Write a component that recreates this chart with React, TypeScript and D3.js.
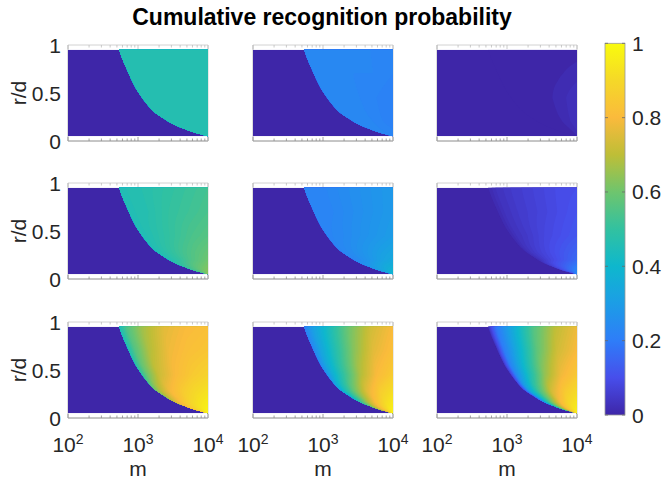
import React, { useEffect, useRef } from 'react';
import * as d3 from 'd3';

// parula-like colormap
const parulaStops = [0, 0.1, 0.2, 0.3, 0.4, 0.5, 0.6, 0.7, 0.8, 0.9, 1];
const parulaColors = [
  '#3e26a8', '#474eeb', '#2e7df8', '#1c9de6', '#0eb7cd', '#32c1a0',
  '#6ec56e', '#bebe37', '#faba3c', '#f5d828', '#f9fb0e',
];

const xTickValues = [1e2, 1e3, 1e4];
const xTickExp = ['2', '3', '4'];
const yTickValues = [0, 0.5, 1];
const yTickLabels = ['0', '0.5', '1'];
const cbTickValues = [0, 0.2, 0.4, 0.6, 0.8, 1];
const cbTickLabels = ['0', '0.2', '0.4', '0.6', '0.8', '1'];

// edge of the non-zero region: r/d vs log10(m)
const boundaryRd = [0.95, 0.85, 0.75, 0.65, 0.55, 0.45, 0.35, 0.28, 0.22, 0.17, 0.13, 0.1, 0.075, 0.05];
const boundaryLogM = [2.73, 2.78, 2.84, 2.9, 2.97, 3.06, 3.17, 3.27, 3.4, 3.52, 3.65, 3.76, 3.87, 4.0];

// sample rows (r/d) and columns (fraction of the way from the edge to m = 10^4)
const rdRows = [0.95, 0.7, 0.45, 0.2, 0.05];
const tCols = [0, 0.08, 0.25, 0.5, 0.75, 1];

const p11 = [
  [0.46, 0.46, 0.46, 0.46, 0.46, 0.46],
  [0.46, 0.46, 0.46, 0.46, 0.46, 0.46],
  [0.46, 0.46, 0.46, 0.46, 0.46, 0.46],
  [0.46, 0.46, 0.46, 0.46, 0.46, 0.46],
  [0.46, 0.46, 0.46, 0.46, 0.46, 0.46],
];
const p12 = [
  [0.23, 0.23, 0.23, 0.23, 0.23, 0.23],
  [0.23, 0.23, 0.23, 0.23, 0.23, 0.22],
  [0.23, 0.23, 0.23, 0.23, 0.22, 0.21],
  [0.23, 0.23, 0.23, 0.23, 0.22, 0.21],
  [0.23, 0.23, 0.23, 0.23, 0.23, 0.23],
];
const p13 = [
  [0.003, 0.003, 0.003, 0.003, 0.003, 0.005],
  [0.003, 0.003, 0.003, 0.003, 0.008, 0.015],
  [0.003, 0.003, 0.003, 0.005, 0.015, 0.03],
  [0.003, 0.003, 0.003, 0.005, 0.015, 0.03],
  [0.003, 0.003, 0.003, 0.003, 0.008, 0.015],
];
const p21 = [
  [0.45, 0.46, 0.47, 0.49, 0.51, 0.53],
  [0.45, 0.46, 0.47, 0.5, 0.52, 0.54],
  [0.45, 0.46, 0.48, 0.51, 0.54, 0.56],
  [0.46, 0.47, 0.5, 0.54, 0.57, 0.6],
  [0.55, 0.56, 0.58, 0.61, 0.63, 0.64],
];
const p22 = [
  [0.22, 0.22, 0.23, 0.25, 0.27, 0.29],
  [0.22, 0.22, 0.23, 0.25, 0.27, 0.29],
  [0.22, 0.23, 0.24, 0.26, 0.28, 0.3],
  [0.23, 0.24, 0.26, 0.29, 0.32, 0.34],
  [0.32, 0.33, 0.35, 0.37, 0.39, 0.4],
];
const p23 = [
  [0.01, 0.03, 0.05, 0.07, 0.09, 0.1],
  [0.01, 0.03, 0.05, 0.07, 0.09, 0.11],
  [0.01, 0.03, 0.05, 0.08, 0.1, 0.12],
  [0.02, 0.04, 0.07, 0.1, 0.13, 0.16],
  [0.1, 0.12, 0.15, 0.19, 0.22, 0.25],
];
const p31 = [
  [0.45, 0.55, 0.66, 0.76, 0.8, 0.82],
  [0.46, 0.56, 0.68, 0.78, 0.82, 0.84],
  [0.5, 0.6, 0.72, 0.8, 0.85, 0.88],
  [0.68, 0.74, 0.82, 0.88, 0.92, 0.95],
  [0.9, 0.91, 0.93, 0.95, 0.97, 0.98],
];
const p32 = [
  [0.22, 0.3, 0.42, 0.6, 0.73, 0.8],
  [0.23, 0.32, 0.45, 0.63, 0.76, 0.82],
  [0.26, 0.36, 0.5, 0.68, 0.8, 0.86],
  [0.4, 0.5, 0.65, 0.8, 0.89, 0.94],
  [0.75, 0.8, 0.85, 0.92, 0.96, 0.98],
];
const p33 = [
  [0.03, 0.18, 0.33, 0.55, 0.7, 0.78],
  [0.04, 0.2, 0.36, 0.58, 0.73, 0.8],
  [0.06, 0.24, 0.42, 0.64, 0.78, 0.85],
  [0.15, 0.38, 0.58, 0.78, 0.88, 0.93],
  [0.6, 0.7, 0.8, 0.9, 0.95, 0.97],
];
const panels = [
  [p11, p12, p13],
  [p21, p22, p23],
  [p31, p32, p33],
];

const FONT = "'Liberation Sans', Arial, Helvetica, sans-serif";
const TXT = '#262626';

// piecewise linear lookup (xs ascending or descending)
function interp(xs: number[], ys: number[], x: number) {
  for (let i = 0; i < xs.length - 1; i++) {
    const a = xs[i], b = xs[i + 1];
    if ((x - a) * (x - b) <= 0) {
      const f = b === a ? 0 : (x - a) / (b - a);
      return ys[i] + f * (ys[i + 1] - ys[i]);
    }
  }
  return Math.abs(x - xs[0]) < Math.abs(x - xs[xs.length - 1]) ? ys[0] : ys[ys.length - 1];
}

// value at (log10 m, r/d); left of the edge it just holds the edge value,
// the edge itself comes from the clip path
function fieldValue(grid: number[][], logm: number, rd: number) {
  const xb = interp(boundaryRd, boundaryLogM, rd);
  const t = xb >= 4 ? 1 : Math.max(0, Math.min(1, (logm - xb) / (4 - xb)));
  const rowVals = grid.map((row) => interp(tCols, row, t));
  return interp(rdRows, rowVals, rd);
}

const App: React.FC = () => {
  const ref = useRef<SVGSVGElement>(null);

  useEffect(() => {
    if (!ref.current) return;
    const svg = d3.select(ref.current);
    svg.selectAll('*').remove();

    const parula = d3
      .scaleLinear<string>()
      .domain(parulaStops)
      .range(parulaColors)
      .interpolate(d3.interpolateRgb)
      .clamp(true);

    const colX = [68, 253, 437];
    const rowY = [45, 183, 322];
    const pw = 140;
    const ph = 96;
    const pad = 2;
    const thresholds = d3.range(1, 100).map((k) => k / 100);
    const defs = svg.append('defs');

    // title
    svg
      .append('text')
      .attr('x', 322)
      .attr('y', 25)
      .attr('text-anchor', 'middle')
      .style('font-family', FONT)
      .style('font-size', '23px')
      .style('font-weight', 'bold')
      .attr('fill', '#000')
      .text('Cumulative recognition probability');

    panels.forEach((row, ri) => {
      row.forEach((grid, ci) => {
        const x0 = colX[ci];
        const y0 = rowY[ri];
        const x = d3.scaleLog().domain([1e2, 1e4]).range([x0, x0 + pw]);
        const y = d3.scaleLinear().domain([0, 1]).range([y0 + ph, y0]);
        const g = svg.append('g');

        // axes box (under the data, like MATLAB's bottom layer)
        g.append('line')
          .attr('x1', x0).attr('x2', x0 + pw).attr('y1', y(1)).attr('y2', y(1))
          .attr('stroke', '#d2d2d2').attr('stroke-width', 1);
        g.append('line')
          .attr('x1', x0).attr('x2', x0 + pw).attr('y1', y(0)).attr('y2', y(0))
          .attr('stroke', '#8c8c8c').attr('stroke-width', 1);
        g.append('line')
          .attr('x1', x0).attr('x2', x0).attr('y1', y(1)).attr('y2', y(0))
          .attr('stroke', '#bdbdbd').attr('stroke-width', 1);
        g.append('line')
          .attr('x1', x0 + pw).attr('x2', x0 + pw).attr('y1', y(1)).attr('y2', y(0))
          .attr('stroke', '#d2d2d2').attr('stroke-width', 1);

        const ticks = x.ticks();
        ticks.forEach((tv) => {
          const major = xTickValues.includes(tv);
          const len = major ? 4 : 2.5;
          g.append('line')
            .attr('x1', x(tv)).attr('x2', x(tv))
            .attr('y1', y(0)).attr('y2', y(0) - len)
            .attr('stroke', '#8c8c8c').attr('stroke-width', 0.8);
          g.append('line')
            .attr('x1', x(tv)).attr('x2', x(tv))
            .attr('y1', y(1)).attr('y2', y(1) + len)
            .attr('stroke', '#bdbdbd').attr('stroke-width', 0.8);
        });

        // data field on a padded grid, drawn as filled contours
        const yTop = y(0.95);
        const yBot = y(0.05);
        const nx = Math.round(pw) + 2 * pad;
        const ny = Math.round(yBot - yTop) + 2 * pad;
        const values = new Array(nx * ny);
        for (let j = 0; j < ny; j++) {
          const py = yTop - pad + j + 0.5;
          const rd = Math.max(0.05, Math.min(0.95, y.invert(py)));
          for (let i = 0; i < nx; i++) {
            const px = x0 - pad + i + 0.5;
            const logm = Math.max(2, Math.min(4, Math.log10(x.invert(px))));
            values[j * nx + i] = fieldValue(grid, logm, rd);
          }
        }

        const clipId = `clip-${ri}-${ci}`;
        defs
          .append('clipPath')
          .attr('id', clipId)
          .append('rect')
          .attr('x', x0)
          .attr('y', yTop)
          .attr('width', pw)
          .attr('height', yBot - yTop);

        // region right of the edge curve
        const edgePts: [number, number][] = boundaryRd.map((r, k) => [
          x(Math.pow(10, boundaryLogM[k])),
          y(r),
        ]);
        const edgeLine = d3.line().curve(d3.curveMonotoneY)(edgePts) as string;
        const last = edgePts[edgePts.length - 1];
        const edgeId = `edge-${ri}-${ci}`;
        defs
          .append('clipPath')
          .attr('id', edgeId)
          .append('path')
          .attr(
            'd',
            `${edgeLine}L${x0 + pw + 5},${last[1]}L${x0 + pw + 5},${yTop - 5}L${edgePts[0][0]},${yTop - 5}Z`
          );

        const dg = g.append('g').attr('clip-path', `url(#${clipId})`);
        dg.append('rect')
          .attr('x', x0)
          .attr('y', yTop)
          .attr('width', pw)
          .attr('height', yBot - yTop)
          .attr('fill', parula(0));

        const contours = d3.contours().size([nx, ny]).thresholds(thresholds)(values);
        const path = d3.geoPath();
        const field = dg.append('g').attr('clip-path', `url(#${edgeId})`);
        field
          .append('rect')
          .attr('x', x0)
          .attr('y', yTop)
          .attr('width', pw)
          .attr('height', yBot - yTop)
          .attr('fill', parula(0));
        field
          .append('g')
          .attr('transform', `translate(${x0 - pad},${yTop - pad})`)
          .selectAll('path')
          .data(contours.filter((c) => c.coordinates.length > 0))
          .enter()
          .append('path')
          .attr('d', (d) => path(d as any))
          .attr('fill', (d) => parula(d.value + 0.005))
          .attr('stroke', 'none');

        // y labels on the first column
        if (ci === 0) {
          yTickValues.forEach((v, k) => {
            svg
              .append('text')
              .attr('x', x0 - 7)
              .attr('y', y(v))
              .attr('text-anchor', 'end')
              .attr('dominant-baseline', 'central')
              .style('font-family', FONT)
              .style('font-size', '21px')
              .attr('fill', TXT)
              .text(yTickLabels[k]);
          });
          svg
            .append('text')
            .attr('transform', `translate(26,${y0 + ph / 2}) rotate(-90)`)
            .attr('text-anchor', 'middle')
            .style('font-family', FONT)
            .style('font-size', '21px')
            .attr('fill', TXT)
            .text('r/d');
        }

        // x labels on the bottom row
        if (ri === 2) {
          xTickValues.forEach((v, k) => {
            const t = svg
              .append('text')
              .attr('x', x(v))
              .attr('y', 452)
              .attr('text-anchor', 'middle')
              .style('font-family', FONT)
              .style('font-size', '21px')
              .attr('fill', TXT);
            t.append('tspan').text('10');
            t.append('tspan')
              .attr('dy', -8)
              .style('font-size', '14px')
              .text(xTickExp[k]);
          });
          svg
            .append('text')
            .attr('x', x0 + pw / 2)
            .attr('y', 476)
            .attr('text-anchor', 'middle')
            .style('font-family', FONT)
            .style('font-size', '21px')
            .attr('fill', TXT)
            .text('m');
        }
      });
    });

    // colorbar
    const cbX = 605;
    const cbW = 20;
    const cb = d3.scaleLinear().domain([0, 1]).range([415, 43.3]);
    const grad = defs
      .append('linearGradient')
      .attr('id', 'cbgrad')
      .attr('x1', 0).attr('y1', 1).attr('x2', 0).attr('y2', 0);
    d3.range(0, 1.0001, 0.025).forEach((v) => {
      grad.append('stop').attr('offset', v).attr('stop-color', parula(v));
    });
    svg
      .append('rect')
      .attr('x', cbX)
      .attr('y', cb(1))
      .attr('width', cbW)
      .attr('height', cb(0) - cb(1))
      .attr('fill', 'url(#cbgrad)')
      .attr('stroke', '#9a9a9a')
      .attr('stroke-width', 0.8);
    cbTickValues.forEach((v, k) => {
      svg.append('line')
        .attr('x1', cbX + cbW).attr('x2', cbX + cbW - 3)
        .attr('y1', cb(v)).attr('y2', cb(v))
        .attr('stroke', '#6a6a6a').attr('stroke-width', 0.8);
      svg.append('line')
        .attr('x1', cbX).attr('x2', cbX + 3)
        .attr('y1', cb(v)).attr('y2', cb(v))
        .attr('stroke', '#6a6a6a').attr('stroke-width', 0.8);
      svg
        .append('text')
        .attr('x', 632)
        .attr('y', cb(v))
        .attr('dominant-baseline', 'central')
        .style('font-family', FONT)
        .style('font-size', '21px')
        .attr('fill', TXT)
        .text(cbTickLabels[k]);
    });
  }, []);

  return (
    <svg
      ref={ref}
      width={662}
      height={487}
      style={{ position: 'absolute', left: 0, top: 0, background: '#fff' }}
    />
  );
};

export default App;
